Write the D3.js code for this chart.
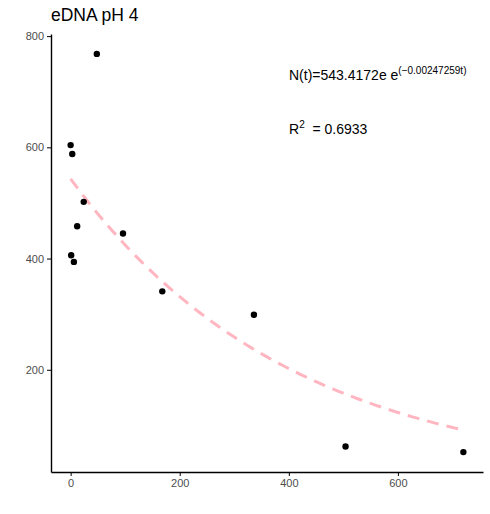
<!DOCTYPE html>
<html>
<head>
<meta charset="utf-8">
<script src="https://cdn.jsdelivr.net/npm/d3@7"></script>
<style>
    body { margin: 0; background: #fff; }
    svg { font-family: "Liberation Sans", Arial, sans-serif; }
    .axis path, .axis line { stroke: #000; }
    .axis text { fill: #4d4d4d; font-size: 11px; }
</style>
</head>
<body>
<div id="chart"></div>
<script>

// sampling time (hours) and eDNA copies
const hours = [0, 3, 1, 6, 12, 24, 48, 96, 168, 336, 504, 720];
const copies = [604, 588, 406, 394, 458, 502, 768, 445, 341, 299, 62, 52];

// fitted model N(t) = a * exp(b * t)
const fitA = 543.4172;
const fitB = -0.00247259;
const fitR2 = 0.6933;

const xTicks = [0, 200, 400, 600];
const yTicks = [200, 400, 600, 800];

const margin = { top: 34, right: 7, bottom: 42, left: 51 };
const width = 490 - margin.left - margin.right;
const height = 514 - margin.top - margin.bottom;

const svg = d3.select("#chart").append("svg")
    .attr("width", 490)
    .attr("height", 514);

const g = svg.append("g")
    .attr("transform", "translate(" + margin.left + "," + margin.top + ")");

// ggplot style 5% expansion
let xExt = d3.extent(hours), xPad = (xExt[1] - xExt[0]) * 0.05;
let yExt = d3.extent(copies), yPad = (yExt[1] - yExt[0]) * 0.05;

const x = d3.scaleLinear()
    .domain([xExt[0] - xPad, xExt[1] + xPad])
    .range([0, width]);

const y = d3.scaleLinear()
    .domain([yExt[0] - yPad, yExt[1] + yPad])
    .range([height, 0]);

// fitted curve
let tSteps = d3.range(0, xExt[1] + 1, 5);
let line = d3.line()
    .x(d => x(d))
    .y(d => y(fitA * Math.exp(fitB * d)));

g.append("path")
    .datum(tSteps)
    .attr("d", line)
    .attr("fill", "none")
    .attr("stroke", "#FFB6C1")
    .attr("stroke-width", 3)
    .attr("stroke-dasharray", "12,8");

// points
g.selectAll(".dot")
    .data(hours)
    .enter().append("circle")
    .attr("class", "dot")
    .attr("cx", d => x(d))
    .attr("cy", (d, i) => y(copies[i]))
    .attr("r", 3.2)
    .attr("fill", "#000");

// axes
let xAxis = d3.axisBottom(x).tickValues(xTicks).tickSizeInner(4).tickSizeOuter(0).tickPadding(3);
let yAxis = d3.axisLeft(y).tickValues(yTicks).tickSizeInner(4).tickSizeOuter(0).tickPadding(3);

g.append("g")
    .attr("class", "x-axis axis")
    .attr("transform", "translate(0," + height + ")")
    .call(xAxis)
    .call(a => a.select(".domain").attr("stroke-width", 1.4).attr("stroke", "#333"));

g.append("g")
    .attr("class", "y-axis axis")
    .call(yAxis)
    .call(a => a.select(".domain").attr("stroke-width", 1.4));

g.selectAll(".axis .tick line").attr("stroke", "#333");

// title
svg.append("text")
    .attr("x", 51)
    .attr("y", 21)
    .style("font-size", "17.5px")
    .style("fill", "#000")
    .text("eDNA pH 4");

// equation label
let eq = svg.append("text")
    .attr("x", 289)
    .attr("y", 80)
    .style("font-size", "14px")
    .style("fill", "#000");
eq.append("tspan").text("N(t)=" + fitA + "e e");
eq.append("tspan")
    .attr("dy", -6)
    .style("font-size", "10px")
    .text("(\u2212" + Math.abs(fitB) + "t)");

let r2 = svg.append("text")
    .attr("x", 289)
    .attr("y", 134)
    .style("font-size", "14px")
    .style("white-space", "pre")
    .style("fill", "#000");
r2.append("tspan").text("R");
r2.append("tspan")
    .attr("dy", -6)
    .style("font-size", "10px")
    .text("2");
r2.append("tspan")
    .attr("dy", 6)
    .text("  = " + fitR2);

</script>
</body>
</html>
